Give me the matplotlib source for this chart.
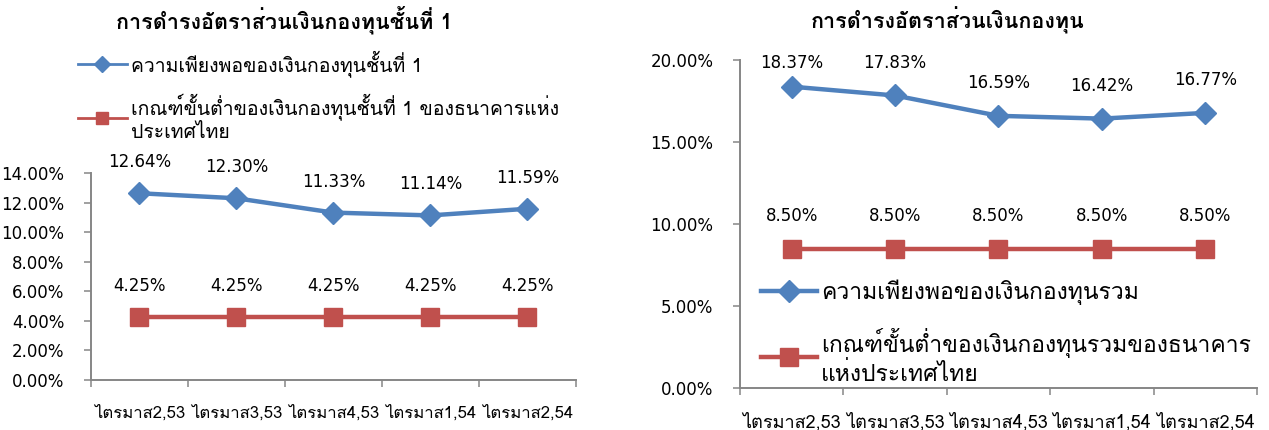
import matplotlib
matplotlib.use("Agg")
import matplotlib.pyplot as plt
from matplotlib import font_manager
from matplotlib.ft2font import FT2Font
from matplotlib.lines import Line2D

categories = ["ไตรมาส2,53", "ไตรมาส3,53", "ไตรมาส4,53", "ไตรมาส1,54", "ไตรมาส2,54"]

tier1_ratio = [12.64, 12.30, 11.33, 11.14, 11.59]
tier1_min = [4.25, 4.25, 4.25, 4.25, 4.25]
total_ratio = [18.37, 17.83, 16.59, 16.42, 16.77]
total_min = [8.50, 8.50, 8.50, 8.50, 8.50]

left_title = "การดำรงอัตราส่วนเงินกองทุนชั้นที่ 1"
right_title = "การดำรงอัตราส่วนเงินกองทุน"
left_labels = ["ความเพียงพอของเงินกองทุนชั้นที่ 1",
               "เกณฑ์ขั้นต่ำของเงินกองทุนชั้นที่ 1 ของธนาคารแห่ง\nประเทศไทย"]
right_labels = ["ความเพียงพอของเงินกองทุนรวม",
                "เกณฑ์ขั้นต่ำของเงินกองทุนรวมของธนาคาร\nแห่งประเทศไทย"]


def find_thai_font():
    for f in font_manager.fontManager.ttflist:
        try:
            cmap = FT2Font(f.fname).get_charmap()
        except Exception:
            continue
        if 0x0E01 in cmap and 0x0E33 in cmap and 0x0E49 in cmap:
            return f.name
    return None


thai = find_thai_font()
plt.rcParams["font.family"] = [thai, "DejaVu Sans"] if thai else ["DejaVu Sans"]

BLUE = "#4F81BD"
RED = "#C0504D"
GREY = "#868686"

fig = plt.figure(figsize=(12.69, 4.30), dpi=100)
ax1 = fig.add_axes([0.0717, 0.1163, 0.382, 0.481])
ax2 = fig.add_axes([0.5831, 0.0977, 0.4074, 0.763])

x = list(range(len(categories)))


def style_axis(ax, ymax, step, catsize):
    ax.set_xlim(-0.5, len(categories) - 0.5)
    ax.set_ylim(0, ymax)
    n = int(ymax / step) + 1
    ax.set_yticks([i * step for i in range(n)])
    ax.set_yticklabels(["{:.2f}%".format(i * step) for i in range(n)],
                       fontsize=12, family="DejaVu Sans")
    ax.set_xticks(x)
    ax.set_xticklabels(categories, fontsize=catsize)
    ax.set_xticks([i - 0.5 for i in range(len(categories) + 1)], minor=True)
    ax.tick_params(axis="x", which="major", length=0, pad=18)
    ax.tick_params(axis="x", which="minor", length=5, color=GREY, width=1.1)
    ax.tick_params(axis="y", length=5, color=GREY, width=1.1, pad=14)
    for s in ["top", "right"]:
        ax.spines[s].set_visible(False)
    for s in ["left", "bottom"]:
        ax.spines[s].set_color(GREY)
        ax.spines[s].set_linewidth(1.4)


def draw(ax, blue, red, off, cap):
    l1, = ax.plot(x, blue, color=BLUE, lw=3.2, marker="D", ms=11, clip_on=False)
    l2, = ax.plot(x, red, color=RED, lw=3.2, marker="s", ms=13, clip_on=False)
    for xi, v in zip(x, blue):
        ax.text(xi, min(v + off, cap), "{:.2f}%".format(v), ha="center", va="center",
                fontsize=12, family="DejaVu Sans")
    for xi, v in zip(x, red):
        ax.text(xi, min(v + off, cap), "{:.2f}%".format(v), ha="center", va="center",
                fontsize=12, family="DejaVu Sans")
    return l1, l2


style_axis(ax1, 14, 2, 12)
style_axis(ax2, 20, 5, 13)

draw(ax1, tier1_ratio, tier1_min, 2.1, 99)
h2 = draw(ax2, total_ratio, total_min, 2.0, 19.8)

fig.text(0.224, 0.953, left_title, ha="center", va="center", fontsize=15.5, fontweight="bold")
fig.text(0.747, 0.953, right_title, ha="center", va="center", fontsize=15.5, fontweight="bold")

# left legend uses thinner handles, as in the original
h1 = [Line2D([], [], color=BLUE, lw=2, marker="D", ms=8),
      Line2D([], [], color=RED, lw=2, marker="s", ms=9)]
fig.legend(h1, left_labels, loc="upper left", bbox_to_anchor=(0.0615, 0.884),
           frameon=False, fontsize=14, handlelength=2.5, handletextpad=0.2,
           labelspacing=0.9, borderpad=0, borderaxespad=0)
ax2.legend(h2, right_labels, loc="lower left", bbox_to_anchor=(0.0, -0.057),
           frameon=False, fontsize=16.5, handlelength=2.45, handletextpad=0.2,
           labelspacing=1.0)

fig.savefig("out.png", dpi=100)
